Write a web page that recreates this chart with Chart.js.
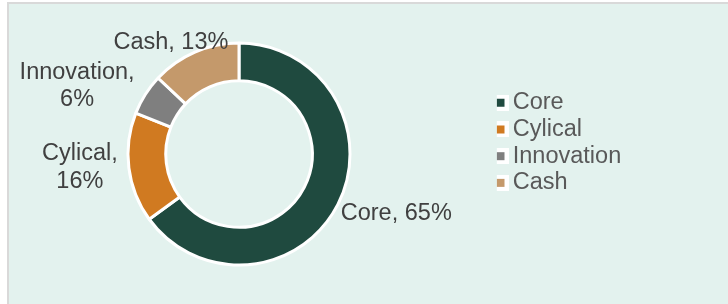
<!DOCTYPE html>
<html><head><meta charset="utf-8">
<script src="https://cdn.jsdelivr.net/npm/chart.js@4/dist/chart.umd.min.js"></script>
<style>
html,body{margin:0;padding:0;background:#ffffff;overflow:hidden;width:728px;height:304px;position:relative;}
#frame{position:absolute;left:7px;top:2px;width:760px;height:330px;border-left:2px solid #D9D9D9;border-top:2px solid #D9D9D9;background:#E3F2EE;}
#wrap{position:absolute;left:-30px;top:0;width:758px;height:304px;}
</style></head><body>
<div id="frame"></div>
<div id="wrap"><canvas id="c"></canvas></div>
<script>
// ---- data ----
const categories = ['Core', 'Cylical', 'Innovation', 'Cash'];
const weights = [65, 16, 6, 13];
const sliceColors = ['#1F4A3F', '#D07A21', '#7F7F7F', '#C4996B'];

// ---- layout helpers ----
const FONT = '"Liberation Sans", Arial, sans-serif';
const FS = 23.5;
const OFFSET = 30, W = 758;
const LEG_PAD = 3.2, PSW = 1;
const centerPageX = 239, legendBoxPageX = 500;
const mctx = document.createElement('canvas').getContext('2d');
mctx.font = FS + 'px ' + FONT;
const maxLegendText = Math.max(...categories.map(c => mctx.measureText(c).width));
const chartRight = legendBoxPageX + OFFSET - LEG_PAD;
const padL = 2 * (centerPageX + OFFSET) - chartRight;
const legendW = LEG_PAD + (PSW + FS / 2 + maxLegendText) + 10;
const padR = W - chartRight - legendW;
const padT = 12, padB = 8;
const firstItemTop = 91.0;
const titlePadTop = firstItemTop - padT - LEG_PAD - 14.4;

function legendIcon(color) {
  const c = document.createElement('canvas');
  c.width = 16; c.height = 16;
  const g = c.getContext('2d');
  g.fillStyle = '#FFFFFF'; g.fillRect(0, 0, 16, 16);
  g.fillStyle = color; g.fillRect(4, 4, 8, 8);
  return c;
}

const sliceLabels = {
  id: 'sliceLabels',
  afterDatasetsDraw(chart, args, opts) {
    const ctx = chart.ctx;
    const meta = chart.getDatasetMeta(0);
    ctx.save();
    ctx.font = opts.size + 'px ' + opts.family;
    ctx.fillStyle = opts.color;
    ctx.textAlign = 'center';
    ctx.textBaseline = 'middle';
    meta.data.forEach((arc, i) => {
      const p = arc.getProps(['x', 'y', 'startAngle', 'endAngle', 'outerRadius'], true);
      const mid = (p.startAngle + p.endAngle) / 2;
      const dx = Math.cos(mid), dy = Math.sin(mid);
      const name = chart.data.labels[i];
      const val = chart.data.datasets[0].data[i];
      const one = name + ', ' + val + '%';
      const lines = ctx.measureText(one).width > opts.maxWidth ? [name + ',', val + '%'] : [one];
      const w = Math.max(...lines.map(l => ctx.measureText(l).width));
      const h = lines.length * opts.lineHeight;
      const r = p.outerRadius + opts.gap;
      const n = opts.nudge[i] || [0, 0];
      const cx = p.x + dx * r + dx * w / 2 + n[0];
      const cy = p.y + dy * r + dy * h / 2 + n[1];
      lines.forEach((l, k) => ctx.fillText(l, cx, cy - h / 2 + opts.lineHeight * (k + 0.5)));
    });
    ctx.restore();
  }
};

new Chart(document.getElementById('c'), {
  type: 'doughnut',
  data: {
    labels: categories,
    datasets: [{
      data: weights,
      backgroundColor: sliceColors,
      borderColor: '#FFFFFF',
      borderWidth: 3,
      hoverOffset: 0,
      clip: false
    }]
  },
  options: {
    responsive: true,
    maintainAspectRatio: false,
    animation: false,
    events: [],
    radius: 111,
    cutout: '66%',
    rotation: 0,
    layout: { padding: { left: padL, right: padR, top: padT, bottom: padB } },
    plugins: {
      tooltip: { enabled: false },
      legend: {
        position: 'right',
        align: 'start',
        title: { display: true, text: '', font: { size: 12, lineHeight: 1.2 }, padding: { top: titlePadTop, bottom: 0 } },
        labels: {
          usePointStyle: true,
          pointStyleWidth: PSW,
          padding: LEG_PAD,
          color: '#595959',
          font: { family: FONT, size: FS },
          generateLabels(chart) {
            const ds = chart.data.datasets[0];
            return chart.data.labels.map((lab, i) => ({
              text: lab,
              pointStyle: legendIcon(ds.backgroundColor[i]),
              fillStyle: ds.backgroundColor[i],
              strokeStyle: '#FFFFFF',
              lineWidth: 0,
              fontColor: '#595959',
              hidden: !chart.getDataVisibility(i),
              index: i
            }));
          }
        }
      },
      sliceLabels: {
        family: FONT, size: FS, color: '#404040',
        maxWidth: 122, lineHeight: 27.5, gap: 5.5,
        nudge: [[4, 0], [-6, -4.5], [-15, 9], [1, 8]]
      }
    }
  },
  plugins: [sliceLabels]
});
</script>
</body></html>
